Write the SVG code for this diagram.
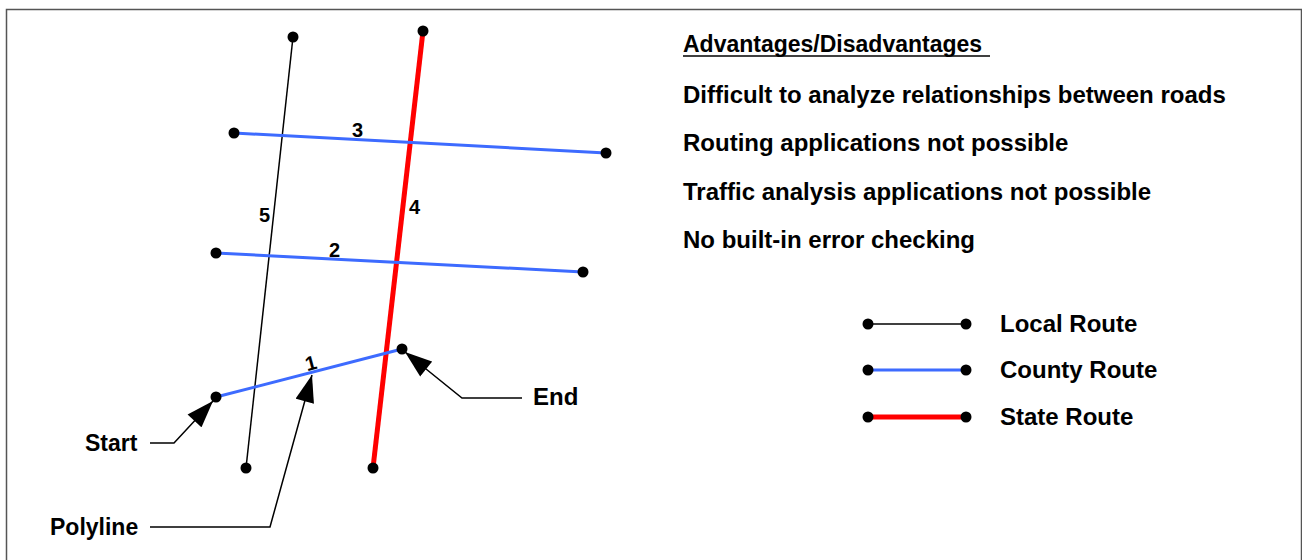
<svg xmlns="http://www.w3.org/2000/svg" width="1302" height="560" viewBox="0 0 1302 560">
  <defs>
    <style>
      text { font-family: "Liberation Sans", Arial, sans-serif; font-weight: bold; fill: #000; }
      .lbl { font-size: 24px; }
      .head { font-size: 23px; }
      .num { font-size: 20px; }
      .local { stroke: #000; stroke-width: 1.5; fill: none; }
      .county { stroke: #3d6bff; stroke-width: 3; fill: none; }
      .state { stroke: #ff0000; stroke-width: 5; fill: none; }
      .dot { fill: #000; }
      .call { stroke: #000; stroke-width: 1.5; fill: none; }
    </style>
    <marker id="arrowBig" viewBox="0 0 20 14" refX="20" refY="7" markerWidth="28" markerHeight="19" markerUnits="userSpaceOnUse" orient="auto">
      <path d="M0,0 L20,7 L0,14 z" fill="#000"/>
    </marker>
  </defs>

  <rect width="1302" height="560" fill="#fff"/>
  <!-- frame -->
  <path d="M6.5,570 V9.5 H1301.5 V570" fill="none" stroke="#555" stroke-width="1.5"/>

  <!-- road segments -->
  <g id="connectors">
    <line class="local" x1="293" y1="37" x2="246" y2="468"/>
    <line class="state" x1="423" y1="31" x2="373" y2="468"/>
    <line class="county" x1="234" y1="133" x2="606" y2="153"/>
    <line class="county" x1="216" y1="253" x2="583" y2="272"/>
    <line class="county" x1="216" y1="397" x2="402" y2="349"/>
    <!-- callout leaders -->
    <polyline class="call" points="150,443 174,443 213,401" marker-end="url(#arrowBig)"/>
    <polyline class="call" points="150,527 270,527 312,375" marker-end="url(#arrowBig)"/>
    <polyline class="call" points="522,398 462,398 405,352" marker-end="url(#arrowBig)"/>
  </g>

  <!-- segment end points -->
  <g id="nodes">
    <circle class="dot" cx="293" cy="37" r="5.5"/>
    <circle class="dot" cx="246" cy="468" r="5.5"/>
    <circle class="dot" cx="423" cy="31" r="5.5"/>
    <circle class="dot" cx="373" cy="468" r="5.5"/>
    <circle class="dot" cx="234" cy="133" r="5.5"/>
    <circle class="dot" cx="606" cy="153" r="5.5"/>
    <circle class="dot" cx="216" cy="253" r="5.5"/>
    <circle class="dot" cx="583" cy="272" r="5.5"/>
    <circle class="dot" cx="216" cy="397" r="5.5"/>
    <circle class="dot" cx="402" cy="349" r="5.5"/>
  </g>

  <!-- segment numbers -->
  <g id="segment-labels">
    <text class="num" x="352" y="137">3</text>
    <text class="num" x="259" y="222">5</text>
    <text class="num" x="409" y="214">4</text>
    <text class="num" x="329" y="257">2</text>
    <text class="num" x="305" y="370" transform="rotate(-15 311 362)">1</text>
  </g>

  <!-- callout labels -->
  <g id="callouts">
    <text class="head" x="85" y="451">Start</text>
    <text class="head" x="50" y="535">Polyline</text>
    <text class="lbl" x="533" y="405">End</text>
  </g>

  <!-- notes -->
  <g id="notes">
    <text class="head" x="683" y="52">Advantages/Disadvantages</text>
    <line x1="683" y1="56" x2="990" y2="56" stroke="#000" stroke-width="1.5"/>
    <text class="lbl" x="683" y="103">Difficult to analyze relationships between roads</text>
    <text class="lbl" x="683" y="151">Routing applications not possible</text>
    <text class="lbl" x="683" y="200">Traffic analysis applications not possible</text>
    <text class="lbl" x="683" y="248">No built-in error checking</text>
  </g>

  <!-- legend -->
  <g id="legend">
    <line class="local" x1="868" y1="324" x2="966" y2="324"/>
    <circle class="dot" cx="868" cy="324" r="5.5"/>
    <circle class="dot" cx="966" cy="324" r="5.5"/>
    <text class="lbl" x="1000" y="332">Local Route</text>
    <line class="county" x1="868" y1="370" x2="966" y2="370"/>
    <circle class="dot" cx="868" cy="370" r="5.5"/>
    <circle class="dot" cx="966" cy="370" r="5.5"/>
    <text class="lbl" x="1000" y="378">County Route</text>
    <line class="state" x1="868" y1="417" x2="966" y2="417"/>
    <circle class="dot" cx="868" cy="417" r="5.5"/>
    <circle class="dot" cx="966" cy="417" r="5.5"/>
    <text class="lbl" x="1000" y="425">State Route</text>
  </g>
</svg>
